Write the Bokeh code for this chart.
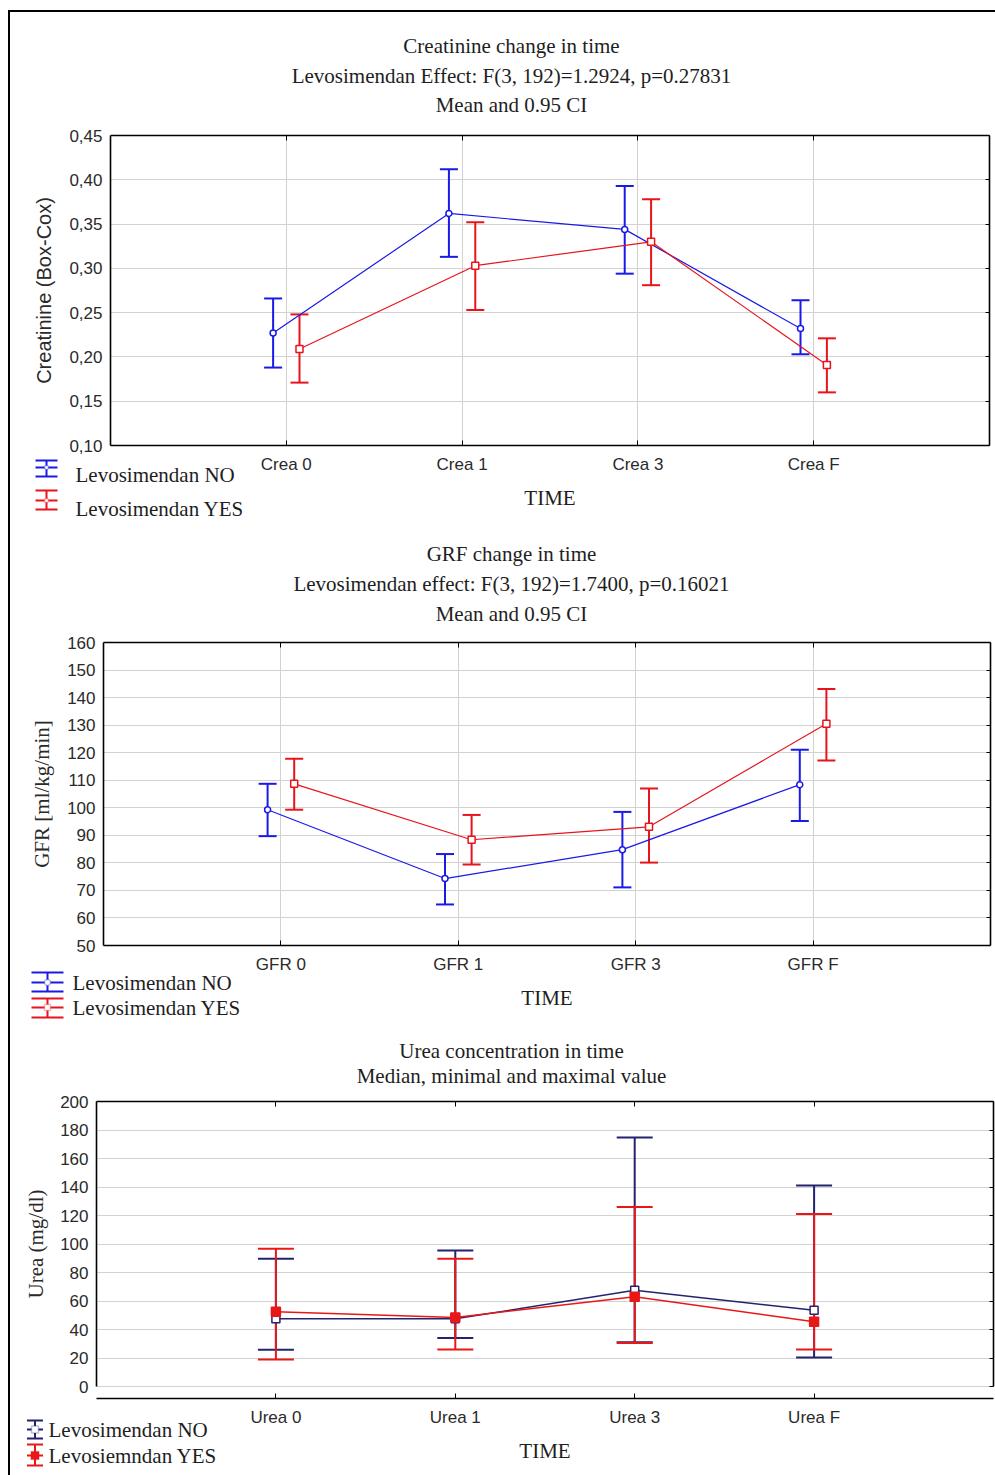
from bokeh.plotting import figure
from bokeh.models import (ColumnDataSource, Whisker, TeeHead, Label, Arrow, BoxAnnotation,
                          FixedTicker, CustomJSTickFormatter, LinearAxis)
from bokeh.layouts import column
from bokeh.embed import file_html
from bokeh.resources import INLINE

# ---------------- data ----------------
crea_times = ["Crea 0", "Crea 1", "Crea 3", "Crea F"]
crea_ticks = [0.10, 0.15, 0.20, 0.25, 0.30, 0.35, 0.40, 0.45]
crea_no_mean = [0.227, 0.362, 0.344, 0.232]
crea_no_lo = [0.188, 0.313, 0.294, 0.203]
crea_no_hi = [0.266, 0.412, 0.393, 0.264]
crea_yes_mean = [0.209, 0.303, 0.330, 0.191]
crea_yes_lo = [0.171, 0.253, 0.281, 0.160]
crea_yes_hi = [0.248, 0.352, 0.378, 0.221]

gfr_times = ["GFR 0", "GFR 1", "GFR 3", "GFR F"]
gfr_ticks = [50, 60, 70, 80, 90, 100, 110, 120, 130, 140, 150, 160]
gfr_no_mean = [99.3, 74.3, 84.8, 108.4]
gfr_no_lo = [89.7, 64.9, 71.1, 95.2]
gfr_no_hi = [108.7, 83.2, 98.5, 121.1]
gfr_yes_mean = [108.7, 88.4, 93.1, 130.5]
gfr_yes_lo = [99.3, 79.4, 80.1, 117.2]
gfr_yes_hi = [117.8, 97.4, 107.0, 143.1]

urea_times = ["Urea 0", "Urea 1", "Urea 3", "Urea F"]
urea_ticks = [0, 20, 40, 60, 80, 100, 120, 140, 160, 180, 200]
urea_no_med = [47.5, 47.5, 67.5, 53.5]
urea_no_min = [25.8, 34.0, 31.0, 20.4]
urea_no_max = [89.7, 95.5, 174.7, 141.0]
urea_yes_med = [52.5, 48.5, 63.0, 45.5]
urea_yes_min = [19.0, 26.0, 30.5, 26.0]
urea_yes_max = [96.7, 89.7, 126.0, 121.0]

titles_crea = ["Creatinine change in time",
               "Levosimendan Effect: F(3, 192)=1.2924, p=0.27831",
               "Mean and 0.95 CI"]
titles_gfr = ["GRF change in time",
              "Levosimendan effect: F(3, 192)=1.7400, p=0.16021",
              "Mean and 0.95 CI"]
titles_urea = ["Urea concentration in time",
               "Median, minimal and maximal value"]
legend_crea = ["Levosimendan NO", "Levosimendan YES"]
legend_gfr = ["Levosimendan NO", "Levosimendan YES"]
legend_urea = ["Levosimendan NO", "Levosiemndan YES"]

# ---------------- style ----------------
SERIF = "Liberation Serif"
SANS = "Liberation Sans"
BLUE = "#1a1ae8"
RED = "#e8141c"
NAVY = "#23236e"
RED3 = "#e81818"
GRID = "#d2d2d2"
TXT = "#1e1e1e"
FIG_W = 985
ORIGIN_X = 10
PAGE_R = ORIGIN_X + FIG_W
CATS = [1, 2, 3, 4]
DODGE = 0.075


def make_panel(oy, height, box_l, box_r, box_t, box_b, y0, y1):
    """Figure whose frame fills the whole canvas; the plot box (x 0..5, y y0..y1)
    sits at the given page pixels, so titles and the key share the frame."""
    ppx = (box_r - box_l) / 5.0
    ppy = (box_b - box_t) / (y1 - y0)
    xs = -(box_l - ORIGIN_X) / ppx
    xe = 5 + (PAGE_R - box_r) / ppx
    ys = y0 - (oy + height - box_b) / ppy
    ye = y1 + (box_t - oy) / ppy
    p = figure(width=FIG_W, height=height, x_range=(xs, xe), y_range=(ys, ye),
               output_backend="svg", toolbar_location=None, min_border=0,
               background_fill_color="white", border_fill_color="white",
               outline_line_color=None)

    def X(px):
        return (px - box_l) / ppx

    def Y(py):
        return y1 - (py - box_t) / ppy
    return p, X, Y


def style_axes(p, cats, yticks, y0, y1, ylabel, ylabel_font, ylabel_standoff,
               yformatter=None, xgrid=True, ybounds=None):
    ybounds = ybounds or (y0, y1)
    xt = FixedTicker(ticks=CATS)
    yt = FixedTicker(ticks=yticks)
    xa = p.xaxis[0]
    ya = p.yaxis[0]
    xa.ticker = xt
    ya.ticker = yt
    xa.fixed_location = y0
    xa.bounds = (0, 5)
    ya.fixed_location = 0
    ya.bounds = ybounds
    xa.major_label_overrides = {c: name for c, name in zip(CATS, cats)}
    if yformatter is not None:
        ya.formatter = yformatter
    for ax in (xa, ya):
        ax.major_label_text_font = SANS
        ax.major_label_text_font_size = "17px"
        ax.major_label_text_color = "#2a2a2a"
        ax.minor_tick_line_color = None
        ax.axis_line_color = "black"
        ax.axis_line_width = 1.6
    xa.major_tick_in = 5
    xa.major_tick_out = 0
    xa.major_label_standoff = 9
    xa.axis_label = "TIME"
    xa.axis_label_text_font = SERIF
    xa.axis_label_text_font_size = "21px"
    xa.axis_label_text_font_style = "normal"
    xa.axis_label_text_color = TXT
    xa.axis_label_standoff = 9
    ya.major_tick_line_color = None
    ya.major_tick_in = 0
    ya.major_tick_out = 0
    ya.major_label_standoff = 8
    ya.axis_label = ylabel
    ya.axis_label_text_font = ylabel_font
    ya.axis_label_text_font_size = "21px" if ylabel_font == SERIF else "20px"
    ya.axis_label_text_font_style = "normal"
    ya.axis_label_text_color = "#2a2a2a"
    ya.axis_label_standoff = ylabel_standoff
    # remaining sides of the plot box: plain lines with short inward ticks
    top = LinearAxis(fixed_location=y1, bounds=(0, 5),
                     ticker=FixedTicker(ticks=[], minor_ticks=CATS),
                     minor_tick_in=5, minor_tick_out=0, major_tick_line_color=None,
                     axis_line_color="black", axis_line_width=1.6)
    right = LinearAxis(fixed_location=5, bounds=ybounds,
                       ticker=FixedTicker(ticks=[], minor_ticks=yticks),
                       minor_tick_in=4, minor_tick_out=0, major_tick_line_color=None,
                       axis_line_color="black", axis_line_width=1.6)
    p.add_layout(top, "above")
    p.add_layout(right, "right")
    p.xgrid.ticker = xt
    p.ygrid.ticker = yt
    p.xgrid.cross_bounds = (y0, y1)
    p.ygrid.cross_bounds = (0, 5)
    p.xgrid.grid_line_color = GRID if xgrid else None
    p.ygrid.grid_line_color = GRID


def add_series(p, xs, mid, lo, hi, color, cap, lw_line):
    src = ColumnDataSource(dict(x=xs, mid=mid, lo=lo, hi=hi))
    p.line("x", "mid", source=src, line_color=color, line_width=lw_line)
    p.add_layout(Whisker(source=src, base="x", lower="lo", upper="hi",
                         line_color=color, line_width=2,
                         lower_head=TeeHead(size=cap, line_color=color, line_width=2),
                         upper_head=TeeHead(size=cap, line_color=color, line_width=2)))
    return src


def add_markers(p, src, color, marker, fill, msize):
    p.scatter("x", "mid", source=src, marker=marker, size=msize,
              fill_color=fill, line_color=color, line_width=1.5)


def add_titles(p, X, Y, lines, ys, cx=511):
    for txt, py in zip(lines, ys):
        p.add_layout(Label(x=X(cx), y=Y(py), text=txt, text_align="center",
                           text_baseline="middle", text_font=SERIF,
                           text_font_size="21px", text_color=TXT))


def legend_entry(p, X, Y, cx, half_w, y_top, y_mid, y_bot, color, circle, filled, msize,
                 text, tx, ty):
    # key swatch drawn as a small error bar: stem with caps, middle bar and point
    p.add_layout(Arrow(x_start=X(cx), y_start=Y(y_bot), x_end=X(cx), y_end=Y(y_top),
                       start=TeeHead(size=2 * half_w, line_color=color, line_width=2),
                       end=TeeHead(size=2 * half_w, line_color=color, line_width=2),
                       line_color=color, line_width=2))
    p.add_layout(Arrow(x_start=X(cx - half_w), y_start=Y(y_mid), x_end=X(cx + half_w),
                       y_end=Y(y_mid), end=None, line_color=color, line_width=2))
    h = msize / 2.0
    p.add_layout(BoxAnnotation(left=X(cx - h), right=X(cx + h), top=Y(y_mid - h),
                               bottom=Y(y_mid + h), fill_color=color if filled else "white",
                               fill_alpha=1.0, line_color=color, line_width=1.5,
                               border_radius=int(round(h)) if circle else 0))
    p.add_layout(Label(x=X(tx), y=Y(ty), text=text, text_align="left",
                       text_baseline="middle", text_font=SERIF,
                       text_font_size="21px", text_color=TXT))


x_no = [c - DODGE for c in CATS]
x_yes = [c + DODGE for c in CATS]
comma = CustomJSTickFormatter(code="return tick.toFixed(2).replace('.', ',');")

# ---------------- panel 1: creatinine ----------------
p1, X1, Y1 = make_panel(12, 515, 110, 989, 135, 445, 0.10, 0.45)
style_axes(p1, crea_times, crea_ticks, 0.10, 0.45, "Creatinine (Box-Cox)", SANS, 11,
           yformatter=comma)
s_no = add_series(p1, x_no, crea_no_mean, crea_no_lo, crea_no_hi, BLUE, 18, 1.2)
s_yes = add_series(p1, x_yes, crea_yes_mean, crea_yes_lo, crea_yes_hi, RED, 18, 1.2)
add_markers(p1, s_no, BLUE, "circle", "white", 6)
add_markers(p1, s_yes, RED, "square", "white", 7)
add_titles(p1, X1, Y1, titles_crea, [45, 75, 104])
legend_entry(p1, X1, Y1, 46, 11, 460, 467, 476, BLUE, True, False, 4, legend_crea[0], 75, 474)
legend_entry(p1, X1, Y1, 46, 11, 490, 500, 509, RED, True, False, 4, legend_crea[1], 75, 508)

# ---------------- panel 2: GFR ----------------
p2, X2, Y2 = make_panel(527, 498, 103, 990, 642, 945, 50, 160)
style_axes(p2, gfr_times, gfr_ticks, 50, 160, "GFR [ml/kg/min]", SERIF, 10)
s_no = add_series(p2, x_no, gfr_no_mean, gfr_no_lo, gfr_no_hi, BLUE, 18, 1.2)
s_yes = add_series(p2, x_yes, gfr_yes_mean, gfr_yes_lo, gfr_yes_hi, RED, 18, 1.2)
add_markers(p2, s_no, BLUE, "circle", "white", 6)
add_markers(p2, s_yes, RED, "square", "white", 7)
add_titles(p2, X2, Y2, titles_gfr, [553, 583, 613])
legend_entry(p2, X2, Y2, 47, 16, 972, 982, 991, BLUE, True, False, 6, legend_gfr[0], 72, 982)
legend_entry(p2, X2, Y2, 47, 16, 998, 1007, 1017, RED, False, False, 6, legend_gfr[1], 72, 1007)

# ---------------- panel 3: urea ----------------
p3, X3, Y3 = make_panel(1025, 450, 96, 993, 1101, 1398, -8.4, 200)
style_axes(p3, urea_times, urea_ticks, -8.4, 200, "Urea (mg/dl)", SERIF, 9,
           xgrid=False, ybounds=(0, 200))
s_no = add_series(p3, CATS, urea_no_med, urea_no_min, urea_no_max, NAVY, 36, 1.5)
s_yes = add_series(p3, CATS, urea_yes_med, urea_yes_min, urea_yes_max, RED3, 36, 1.5)
add_markers(p3, s_no, NAVY, "square", "white", 8)
add_markers(p3, s_yes, RED3, "square", RED3, 9)
add_titles(p3, X3, Y3, titles_urea, [1050, 1075])
legend_entry(p3, X3, Y3, 34.5, 8, 1420, 1429, 1438, NAVY, False, False, 7, legend_urea[0], 48, 1429)
legend_entry(p3, X3, Y3, 34.5, 8, 1444, 1455, 1465, RED3, False, True, 8, legend_urea[1], 48, 1455)

page = column(p1, p2, p3, margin=(10, 0, 0, 8),
              styles={"border-left": "2px solid black", "border-top": "2px solid black"})

open("out.html", "w").write(file_html(page, INLINE))
